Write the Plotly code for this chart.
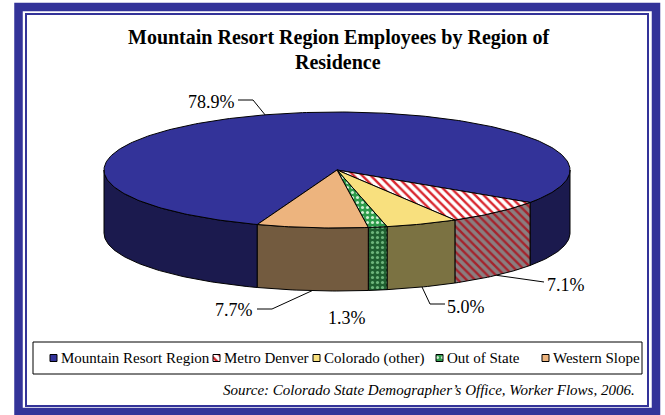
import numpy as np
import plotly.graph_objects as go

# ---------------- data ----------------
categories = ["Mountain Resort Region", "Metro Denver", "Colorado (other)",
              "Out of State", "Western Slope"]
shares = [78.9, 7.1, 5.0, 1.3, 7.7]
title_lines = ["Mountain Resort Region Employees by Region of", "Residence"]
source_text = "Source: Colorado State Demographer\u2019s Office, Worker Flows, 2006."

# ---------------- style ----------------
W, H = 665, 415
CX, CY, RX, RY, DEPTH = 337.0, 170.0, 233.0, 58.0, 63.0
START_ANGLE = 200.0          # clockwise from 12 o'clock, first slice start
SERIF = "Liberation Serif, Times New Roman, serif"
NAVY = "#333399"

TOP_FILL = [
    dict(fillcolor="#333399"),
    dict(fillcolor="white",
         fillpattern=dict(shape="\\", fgcolor="#D9262E", bgcolor="white",
                          size=6, solidity=0.4, fillmode="replace")),
    dict(fillcolor="#F8E07E"),
    dict(fillcolor="#2E9B4B",
         fillpattern=dict(shape=".", fgcolor="#CDEFD0", bgcolor="#2E9B4B",
                          size=5, solidity=0.3, fillmode="replace")),
    dict(fillcolor="#EDB47E"),
]
SIDE_FILL = [
    dict(fillcolor="#1B1A4E"),
    dict(fillcolor="#8A7E80",
         fillpattern=dict(shape="\\", fgcolor="#A5232C", bgcolor="#8A7E80",
                          size=6, solidity=0.4, fillmode="replace")),
    dict(fillcolor="#7B7242"),
    dict(fillcolor="#1F5F30",
         fillpattern=dict(shape=".", fgcolor="#6DB57B", bgcolor="#1F5F30",
                          size=5, solidity=0.3, fillmode="replace")),
    dict(fillcolor="#735B3F"),
]
# label centre + leader route (anchor on the pie is computed)
LABEL_LAYOUT = [
    dict(pos=(211, 102), route=[(253, 100), (238, 100)]),
    dict(pos=(566, 285), route=[(544, 282)]),
    dict(pos=(466, 307), route=[(430, 304), (445, 304)]),
    dict(pos=(347, 318), route=None),
    dict(pos=(234, 310), route=[(272, 309), (257, 309)]),
]
LEGEND_BOX = (33, 342, 642, 374)
LEGEND_MARKER_X = [50, 213, 313, 436, 542]
LEGEND_Y = 358
MARK = 7


def pt(theta, dz=0.0):
    t = np.radians(theta)
    return CX + RX * np.sin(t), CY - RY * np.cos(t) + dz


def arc(a0, a1, dz=0.0):
    n = max(2, int(abs(a1 - a0)) + 2)
    th = np.linspace(a0, a1, n)
    xs, ys = pt(th, dz)
    return list(xs), list(ys)


fig = go.Figure()
total = float(sum(shares))
bounds = []
a = START_ANGLE
for v in shares:
    span = 360.0 * v / total
    bounds.append((a, a + span))
    a += span

# side walls (front half only: 90..270 deg)
for i, (s, e) in enumerate(bounds):
    for k in (0, 1, -1):
        lo = max(s, 90 + 360 * k)
        hi = min(e, 270 + 360 * k)
        if hi > lo:
            tx, ty = arc(lo, hi)
            bx, by = arc(hi, lo, DEPTH)
            fig.add_trace(go.Scatter(
                x=tx + bx + [tx[0]], y=ty + by + [ty[0]], mode="lines",
                fill="toself", line=dict(color="black", width=1),
                hoverinfo="skip", showlegend=False, **SIDE_FILL[i]))

# top faces
for i, (s, e) in enumerate(bounds):
    ax, ay = arc(s, e)
    fig.add_trace(go.Scatter(
        x=[CX] + ax + [CX], y=[CY] + ay + [CY], mode="lines",
        fill="toself", line=dict(color="black", width=1),
        name=categories[i], hoverinfo="skip", showlegend=False, **TOP_FILL[i]))

# data labels + leader lines
annotations = []
for i, (s, e) in enumerate(bounds):
    mid = (s + e) / 2.0
    m = mid % 360
    if 90 <= m <= 270:
        anchor = pt(mid, DEPTH)
    else:
        anchor = pt(mid)
    lay = LABEL_LAYOUT[i]
    if lay["route"]:
        xs = [anchor[0]] + [p[0] for p in lay["route"]]
        ys = [anchor[1]] + [p[1] for p in lay["route"]]
        fig.add_trace(go.Scatter(x=xs, y=ys, mode="lines",
                                 line=dict(color="black", width=1),
                                 hoverinfo="skip", showlegend=False))
    annotations.append(dict(x=lay["pos"][0], y=lay["pos"][1],
                            text=f"{shares[i]:.1f}%", showarrow=False,
                            xanchor="center", yanchor="middle",
                            font=dict(family=SERIF, size=18, color="black")))

# legend markers
for i, cat in enumerate(categories):
    x0 = LEGEND_MARKER_X[i]
    y0 = LEGEND_Y - MARK / 2
    fig.add_trace(go.Scatter(
        x=[x0, x0 + MARK, x0 + MARK, x0, x0],
        y=[y0, y0, y0 + MARK, y0 + MARK, y0], mode="lines", fill="toself",
        line=dict(color="black", width=1), hoverinfo="skip",
        showlegend=False, **TOP_FILL[i]))
    annotations.append(dict(x=x0 + MARK + 2, y=LEGEND_Y, text=cat,
                            showarrow=False, xanchor="left", yanchor="middle",
                            font=dict(family=SERIF, size=15, color="black")))

# title and source
annotations.append(dict(x=338, y=37, text=f"<b>{title_lines[0]}</b>",
                        showarrow=False, xanchor="center", yanchor="middle",
                        font=dict(family=SERIF, size=20, color="black")))
annotations.append(dict(x=338, y=62, text=f"<b>{title_lines[1]}</b>",
                        showarrow=False, xanchor="center", yanchor="middle",
                        font=dict(family=SERIF, size=20, color="black")))
annotations.append(dict(x=637, y=390, text=f"<i>{source_text}</i>",
                        showarrow=False, xanchor="right", yanchor="middle",
                        font=dict(family=SERIF, size=15, color="black")))

shapes = [
    dict(type="rect", x0=18.5, y0=7, x1=656, y1=412,
         line=dict(color=NAVY, width=8.5), layer="below"),
    dict(type="rect", x0=26, y0=14, x1=648, y1=406,
         line=dict(color=NAVY, width=2), layer="below"),
    dict(type="rect", x0=LEGEND_BOX[0], y0=LEGEND_BOX[1],
         x1=LEGEND_BOX[2], y1=LEGEND_BOX[3],
         line=dict(color="black", width=1), layer="below"),
]

fig.update_layout(
    width=W, height=H, margin=dict(l=0, r=0, t=0, b=0),
    paper_bgcolor="white", plot_bgcolor="white",
    xaxis=dict(range=[0, W], visible=False, fixedrange=True),
    yaxis=dict(range=[H, 0], visible=False, fixedrange=True),
    annotations=annotations, shapes=shapes, showlegend=False,
)

fig.write_html("out.html", config={"displayModeBar": False},
               post_script="document.body.style.margin='0';")
